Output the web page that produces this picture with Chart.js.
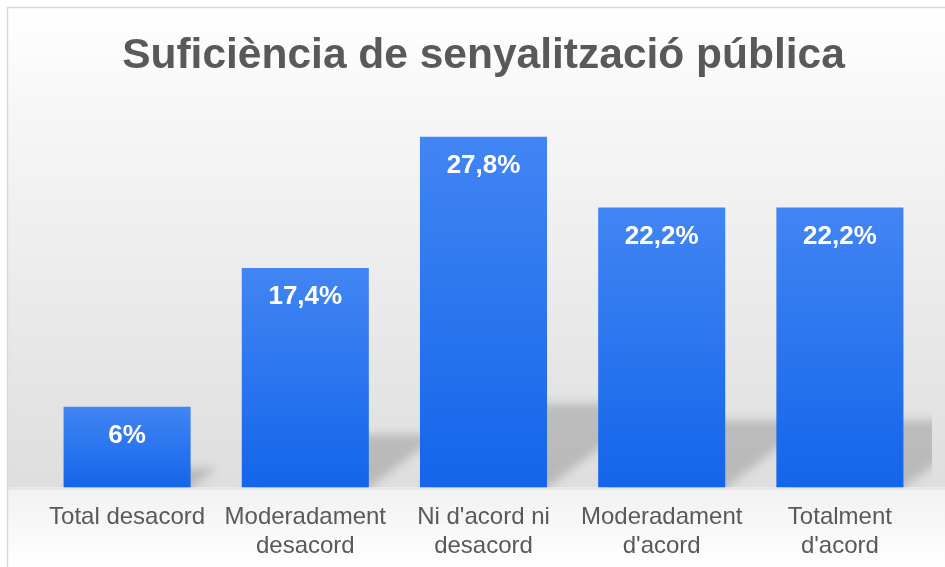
<!DOCTYPE html>
<html>
<head>
<meta charset="utf-8">
<script src="https://cdn.jsdelivr.net/npm/chart.js@4/dist/chart.umd.min.js"></script>
<style>
  body { margin: 0; background: #fff; }
  #wrap { width: 945px; height: 567px; }
</style>
</head>
<body>
<div id="wrap"><canvas id="chart" width="945" height="567"></canvas></div>
<script>
// data
const categories = [
  "Total desacord",
  ["Moderadament", "desacord"],
  ["Ni d'acord ni", "desacord"],
  ["Moderadament", "d'acord"],
  ["Totalment", "d'acord"]
];
const percentages = [6.4, 17.4, 27.8, 22.2, 22.2];
const valueLabels = ["6%", "17,4%", "27,8%", "22,2%", "22,2%"];

// background: white top fading to grey at the floor, then light below
const backgroundPlugin = {
  id: "bg",
  beforeDraw(chart) {
    const { ctx, chartArea, width, height } = chart;
    ctx.save();
    ctx.fillStyle = "#ffffff";
    ctx.fillRect(0, 0, width, height);
    let g = ctx.createLinearGradient(0, 8, 0, chartArea.bottom);
    g.addColorStop(0, "#ffffff");
    g.addColorStop(0.2, "#f7f7f7");
    g.addColorStop(1, "#dedede");
    ctx.fillStyle = g;
    ctx.fillRect(8, 8, width - 8, chartArea.bottom - 8);
    g = ctx.createLinearGradient(0, chartArea.bottom, 0, height);
    g.addColorStop(0, "#f1f1f1");
    g.addColorStop(1, "#ffffff");
    ctx.fillStyle = g;
    ctx.fillRect(8, chartArea.bottom, width - 8, height - chartArea.bottom);
    ctx.fillStyle = "#e4e4e4";
    ctx.fillRect(8, chartArea.bottom, width - 8, 2);
    // outer border
    ctx.strokeStyle = "#d9d9d9";
    ctx.lineWidth = 1.5;
    ctx.beginPath();
    ctx.moveTo(7.5, height);
    ctx.lineTo(7.5, 7.5);
    ctx.lineTo(width, 7.5);
    ctx.stroke();
    ctx.restore();
  }
};

// perspective shadow cast behind each bar
const shadowPlugin = {
  id: "barShadow",
  beforeDatasetsDraw(chart) {
    const { ctx, chartArea } = chart;
    const meta = chart.getDatasetMeta(0);
    ctx.save();
    ctx.beginPath();
    ctx.rect(8, 8, chartArea.right + 3 - 8, chartArea.bottom - 8);
    ctx.clip();
    ctx.filter = "blur(5px)";
    ctx.fillStyle = "rgba(0,0,0,0.17)";
    meta.data.forEach(bar => {
      const left = bar.x - bar.width / 2;
      const right = bar.x + bar.width / 2;
      const h = bar.base - bar.y;
      const dx = h * 0.32, dy = h * 0.24;
      ctx.beginPath();
      ctx.moveTo(left, bar.base + 6);
      ctx.lineTo(right, bar.base + 6);
      ctx.lineTo(right, bar.base);
      ctx.lineTo(right + dx, bar.base - dy);
      ctx.lineTo(left + dx, bar.base - dy);
      ctx.closePath();
      ctx.fill();
    });
    ctx.restore();
  }
};

// white labels inside the top of each bar
const valueLabelPlugin = {
  id: "valueLabels",
  afterDatasetsDraw(chart) {
    const { ctx } = chart;
    const meta = chart.getDatasetMeta(0);
    ctx.save();
    ctx.fillStyle = "#ffffff";
    ctx.font = "bold 26px 'Liberation Sans', Arial, sans-serif";
    ctx.textAlign = "center";
    ctx.textBaseline = "middle";
    meta.data.forEach((bar, i) => {
      ctx.fillText(valueLabels[i], bar.x, bar.y + 29);
    });
    ctx.restore();
  }
};

new Chart(document.getElementById("chart"), {
  type: "bar",
  data: {
    labels: categories,
    datasets: [{
      data: percentages,
      backgroundColor: (c) => {
        const chart = c.chart;
        if (!chart.chartArea || c.type !== "data") return "#2a74ee";
        const ys = chart.scales.y;
        const top = ys.getPixelForValue(c.raw);
        const bot = ys.getPixelForValue(0);
        const g = chart.ctx.createLinearGradient(0, top, 0, bot);
        g.addColorStop(0, "#4285f4");
        g.addColorStop(1, "#1465ea");
        return g;
      },
      borderWidth: 0,
      barPercentage: 0.713,
      categoryPercentage: 1
    }]
  },
  options: {
    responsive: false,
    animation: false,
    devicePixelRatio: 1,
    layout: { padding: { left: 38, right: 16, top: 0, bottom: -2 } },
    plugins: {
      legend: { display: false },
      tooltip: { enabled: false },
      title: {
        display: true,
        text: "Suficiència de senyalització pública",
        color: "#595959",
        font: { family: "'Liberation Sans', Arial, sans-serif", size: 42.5, weight: "bold", lineHeight: 1.2 },
        padding: { top: 31, bottom: 27 }
      }
    },
    scales: {
      x: {
        grid: { display: false },
        border: { display: false },
        ticks: {
          color: "#595959",
          font: { family: "'Liberation Sans', Arial, sans-serif", size: 24, lineHeight: 1.2 },
          padding: 8,
          maxRotation: 0,
          autoSkip: false
        }
      },
      y: {
        display: false,
        min: 0,
        max: 30
      }
    }
  },
  plugins: [backgroundPlugin, shadowPlugin, valueLabelPlugin]
});
</script>
</body>
</html>
